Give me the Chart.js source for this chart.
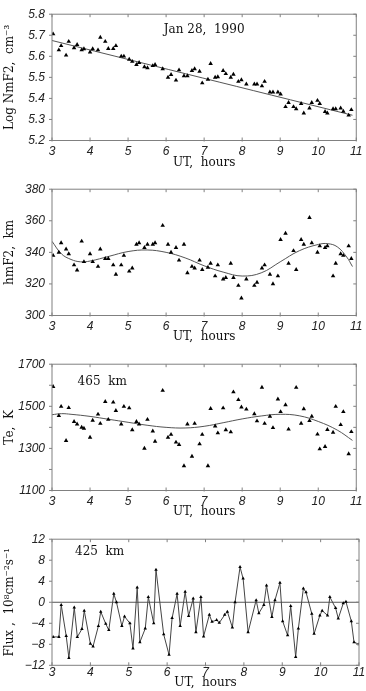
<!DOCTYPE html>
<html>
<head>
<meta charset="utf-8">
<script src="https://cdn.jsdelivr.net/npm/chart.js@4/dist/chart.umd.min.js"></script>
<style>
  body { margin: 0; background: #fff; }
  #wrap { position: relative; width: 366px; height: 691px; overflow: hidden; }
  canvas { position: absolute; left: 0; }
</style>
</head>
<body>
<div id="wrap">
  <canvas id="p1" width="366" height="175" style="top:0"></canvas>
  <canvas id="p2" width="366" height="175" style="top:175px"></canvas>
  <canvas id="p3" width="366" height="175" style="top:350px"></canvas>
  <canvas id="p4" width="366" height="166" style="top:525px"></canvas>
</div>
<script>
// UT sample times (hours), shared by all four panels
const ut = [3.03,3.18,3.24,3.37,3.44,3.58,3.66,3.78,3.84,4.00,4.07,4.21,4.27,4.40,4.48,4.61,4.68,4.82,4.89,5.03,
  5.11,5.22,5.29,5.43,5.51,5.65,5.71,5.91,6.05,6.13,6.26,6.34,6.47,6.56,6.68,6.75,6.88,6.95,7.10,7.17,
  7.29,7.36,7.50,7.57,7.70,7.77,7.90,7.98,8.11,8.32,8.39,8.52,8.59,8.73,8.81,8.94,9.01,9.14,9.22,9.35,
  9.42,9.55,9.62,9.77,9.83,9.98,10.04,10.18,10.24,10.39,10.46,10.59,10.66,10.80,10.87,11.00];

// Log NmF2, cm^-3
const nmf2 = [5.706,5.63,5.65,5.605,5.67,5.64,5.655,5.63,5.635,5.62,5.635,5.63,5.69,5.67,5.636,5.636,5.65,5.60,5.60,5.585,
  5.575,5.56,5.57,5.55,5.545,5.555,5.56,5.54,5.50,5.513,5.486,5.535,5.507,5.507,5.532,5.54,5.528,5.473,5.49,5.565,
  5.50,5.502,5.532,5.517,5.50,5.514,5.48,5.488,5.468,5.468,5.468,5.459,5.48,5.43,5.43,5.43,5.42,5.36,5.38,5.36,
  5.35,5.375,5.33,5.354,5.38,5.39,5.375,5.337,5.33,5.35,5.35,5.354,5.338,5.32,5.346,null];

// hmF2, km
const hmf2 = [338,340,346,342,339,332,328.7,347,334,339,334,331,342,336,336,332,326,332,338,328,
  330,345,346,343,345,345,346,357,345,340,343,335,345,327,331,330,335,329,330.5,333,
  325,332,323,324,333,324,319,311,323,319,321,330,332,326,320,325,348,352,333,341,
  329,348,345,362,346,340,344,343,344,325,333,339,338,344,336,null];

// Te at 465 km, K
const te = [1593,1455,1499,1337,1493,1427,1415,1400,1395,1352,1433,1462,1418,1522,1437,1519,1479,1415,1499,1492,
  1388,1427,1415,1300,1437,1382,1333,1575,1352,1366,1329,1318,1217,1415,1262,1418,1321,1366,1217,1489,
  1406,1373,1492,1388,1378,1568,1531,1496,1486,1464,1430,1590,1418,1452,1398,1534,1474,1507,1391,null,
  1589,1419,1488,1431,1452,1367,1297,1308,1389,1376,1499,1412,1474,1274,1379,null];

// Flux at 425 km, 10^8 cm^-2 s^-1
const flux = [-6.6,-6.6,-0.5,-6.4,-10.6,-1.0,-6.6,-5.1,-1.6,-7.9,-8.4,-4.5,-1.8,-4.1,-5.3,1.6,0,-4.5,-2.7,-4.0,
  -8.8,2.8,-7.6,-5.0,1.0,-4.0,6.2,-6.1,-10.0,-3.0,1.6,-4.5,2.0,-2.6,0.7,-5.7,1.0,-6.5,-2.4,-3.7,
  -3.4,-3.9,-2.4,-1.8,-4.8,0,6.7,4.5,-5.7,0.4,-2.1,-0.5,3.2,-2.8,0.4,3.7,-3.6,-6.3,-0.7,-10.4,
  -5.0,2.6,1.9,-2.2,-6.0,-2.5,-1.6,-2.5,1.0,-1.1,-3.1,-0.2,0.1,-3.6,-7.6,-8.0];

// fitted curves
const fitUT1 = [3.0, 10.9];
const fit1 = [5.675, 5.32];
const fitUT2 = [3.0,3.25,3.5,3.75,4.0,4.5,5.0,5.5,6.0,6.5,7.0,7.5,8.0,8.5,9.0,9.5,10.0,10.25,10.5,10.75,10.9];
const fit2 = [347,339,335.5,334,334.5,337.5,340.5,341.5,340,336.5,331.5,327.5,325,327,334,341,345,345.5,343.5,337,331];
const fitUT3 = [3.0,3.25,3.5,4.0,4.5,5.0,5.5,6.0,6.5,7.0,7.5,8.0,8.5,9.0,9.5,10.0,10.5,10.9];
const fit3 = [1460,1465,1462,1452,1438,1424,1410,1400,1397,1405,1422,1440,1454,1462,1455,1428,1387,1338];

const tickFont = { family: "'Liberation Sans', Arial, sans-serif", style: 'italic', size: 12 };
const titleFont = { family: "'DejaVu Serif', serif", size: 12 };

function pairs(xs, ys) {
  const out = [];
  xs.forEach((x, i) => { if (ys[i] !== null && ys[i] !== undefined) out.push({ x: x, y: ys[i] }); });
  return out;
}

// frame with ticks on all four sides, zero line and panel note
const framePlugin = {
  id: 'frame',
  beforeDatasetsDraw(chart, args, opts) {
    const { ctx, chartArea: a, scales: { y } } = chart;
    if (opts.zero) {
      const py = y.getPixelForValue(0);
      ctx.save();
      ctx.strokeStyle = '#555';
      ctx.lineWidth = 1;
      ctx.beginPath();
      ctx.moveTo(a.left, py);
      ctx.lineTo(a.right, py);
      ctx.stroke();
      ctx.restore();
    }
  },
  afterDraw(chart, args, opts) {
    const { ctx, chartArea: a, scales: { x, y } } = chart;
    ctx.save();
    ctx.strokeStyle = '#808080';
    ctx.lineWidth = 1;
    ctx.strokeRect(a.left, a.top, a.right - a.left, a.bottom - a.top);
    ctx.beginPath();
    y.ticks.forEach(t => {
      const py = y.getPixelForValue(t.value);
      ctx.moveTo(a.left - 3, py); ctx.lineTo(a.left, py);
      ctx.moveTo(a.right, py); ctx.lineTo(a.right - 3, py);
    });
    x.ticks.forEach(t => {
      const px = x.getPixelForValue(t.value);
      ctx.moveTo(px, a.bottom + 1); ctx.lineTo(px, a.bottom - 3);
      ctx.moveTo(px, a.top); ctx.lineTo(px, a.top + 3);
    });
    ctx.stroke();
    if (opts.note) {
      ctx.fillStyle = '#111';
      ctx.font = "12px 'DejaVu Serif', serif";
      ctx.textAlign = 'center';
      ctx.textBaseline = 'middle';
      ctx.fillText(opts.note, x.getPixelForValue(opts.noteX), y.getPixelForValue(opts.noteY));
    }
    ctx.restore();
  }
};

function makePanel(id, p) {
  const datasets = [{
    data: p.points,
    showLine: !!p.joined,
    borderColor: '#444',
    borderWidth: 1,
    pointStyle: 'triangle',
    pointRadius: p.joined ? 2 : 2.6,
    pointBackgroundColor: '#000',
    pointBorderColor: '#000',
    pointBorderWidth: 0,
    order: 1
  }];
  if (p.fit) {
    datasets.push({
      data: p.fit,
      showLine: true,
      borderColor: '#555',
      borderWidth: 1,
      pointRadius: 0,
      tension: 0.4,
      order: 2
    });
  }
  new Chart(document.getElementById(id), {
    type: 'scatter',
    data: { datasets: datasets },
    plugins: [framePlugin],
    options: {
      responsive: false,
      animation: false,
      layout: { padding: { top: 6, right: 7, left: 0, bottom: 0 } },
      plugins: {
        legend: { display: false },
        tooltip: { enabled: false },
        frame: { note: p.note, noteX: p.noteX, noteY: p.noteY, zero: p.zero }
      },
      scales: {
        x: {
          type: 'linear', min: 3, max: 11,
          grid: { display: false, drawTicks: false },
          border: { display: false },
          ticks: { stepSize: 1, font: tickFont, color: '#222', padding: p.xPad },
          title: { display: true, text: 'UT,  hours', font: titleFont, color: '#111',
                   padding: { top: 0, bottom: p.xTitlePad } },
          afterFit: s => { s.height = p.xHeight; }
        },
        y: {
          min: p.min, max: p.max,
          grid: { display: false, drawTicks: false },
          border: { display: false },
          ticks: { stepSize: p.step, font: tickFont, color: '#222', padding: 7, callback: p.fmt },
          title: { display: true, text: p.yTitle, font: titleFont, color: '#111',
                   padding: { top: 3, bottom: 0 } },
          afterFit: s => { s.width = 52; }
        }
      }
    }
  });
}

makePanel('p1', {
  points: pairs(ut, nmf2), fit: pairs(fitUT1, fit1),
  min: 5.2, max: 5.8, step: 0.1, fmt: v => v.toFixed(1),
  yTitle: 'Log NmF2,  cm\u207B\u00B3',
  note: 'Jan 28,  1990', noteX: 7.0, noteY: 5.726,
  xHeight: 34.5, xPad: 3.5, xTitlePad: 5
});
makePanel('p2', {
  points: pairs(ut, hmf2), fit: pairs(fitUT2, fit2),
  min: 300, max: 380, step: 20, fmt: v => v,
  yTitle: 'hmF2,  km',
  xHeight: 34.5, xPad: 3.5, xTitlePad: 5.5
});
makePanel('p3', {
  points: pairs(ut, te), fit: pairs(fitUT3, fit3),
  min: 1100, max: 1700, step: 100, fmt: v => (v % 200 === 100 ? v : ''),
  yTitle: 'Te,  K',
  note: '465  km', noteX: 4.32, noteY: 1618,
  xHeight: 34.5, xPad: 3.5, xTitlePad: 5.5
});
makePanel('p4', {
  points: pairs(ut, flux), joined: true, zero: true,
  min: -12, max: 12, step: 4, fmt: v => (v < 0 ? '\u2212' + Math.abs(v) : v),
  yTitle: 'Flux ,  10\u2078cm\u207B\u00B2s\u207B\u00B9',
  note: '425  km', noteX: 4.24, noteY: 9.5,
  xHeight: 25.7, xPad: 0, xTitlePad: 0.8
});
</script>
</body>
</html>
